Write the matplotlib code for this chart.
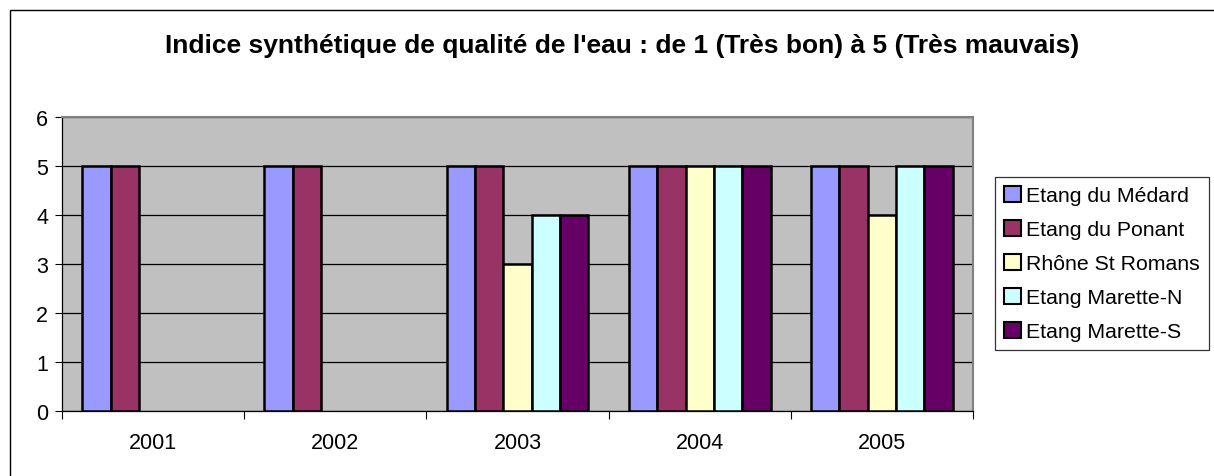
import matplotlib
matplotlib.use("Agg")
import matplotlib.pyplot as plt
from matplotlib.patches import Rectangle
import numpy as np

plt.rcParams['font.family'] = ['Liberation Sans', 'DejaVu Sans']

years = ['2001', '2002', '2003', '2004', '2005']
series_names = ['Etang du Médard', 'Etang du Ponant', 'Rhône St Romans',
                'Etang Marette-N', 'Etang Marette-S']
medard = [5, 5, 5, 5, 5]
ponant = [5, 5, 5, 5, 5]
rhone = [np.nan, np.nan, 3, 5, 4]
marette_n = [np.nan, np.nan, 4, 5, 5]
marette_s = [np.nan, np.nan, 4, 5, 5]
colors = ['#9999FF', '#993366', '#FFFFCC', '#CCFFFF', '#660066']
title = "Indice synthétique de qualité de l'eau : de 1 (Très bon) à 5 (Très mauvais)"

data = [medard, ponant, rhone, marette_n, marette_s]

fig = plt.figure(figsize=(12.14, 4.77), dpi=100)
ax = fig.add_axes([62/1214, 1 - 411.7/477, (973 - 62)/1214, (411.7 - 117.5)/477])

# outer chart border (cut at right/bottom like the screenshot)
fig.patches.append(Rectangle((10/1214, -0.1), 1.2, 1 - 11/477 + 0.1,
                             transform=fig.transFigure, fill=False,
                             edgecolor='black', linewidth=1.0))

x = np.arange(len(years))
bw = 0.1555
for i, vals in enumerate(data):
    ax.bar(x - 2*bw + i*bw, vals, width=bw, color=colors[i], edgecolor='black',
           linewidth=1.8, label=series_names[i], zorder=3)

ax.set_facecolor('#C0C0C0')
ax.set_xlim(-0.5, 4.5)
ax.set_ylim(0, 6)
ax.set_yticks(range(0, 7))
ax.yaxis.grid(True, color='black', linewidth=0.9, zorder=1)
ax.set_axisbelow(True)

ax.set_xticks(np.arange(-0.5, 5, 1))
ax.set_xticklabels([])
ax.set_xticks(x, minor=True)
ax.set_xticklabels(years, minor=True)
ax.tick_params(axis='x', which='major', length=6, width=0.8, color='black')
ax.tick_params(axis='x', which='minor', length=0, labelsize=15.5, pad=15)
ax.tick_params(axis='y', length=5, width=0.8, labelsize=15.5, pad=5)

for s in ['top', 'right']:
    ax.spines[s].set_color('#808080')
    ax.spines[s].set_linewidth(1.5)
ax.spines['left'].set_color('black')
ax.spines['bottom'].set_color('black')
ax.spines['left'].set_linewidth(0.9)
ax.spines['bottom'].set_linewidth(0.9)

fig.text(622/1214, 1 - 46/477, title, ha='center', va='center',
         fontsize=19, fontweight='bold')

leg = fig.legend(loc='upper left', bbox_to_anchor=(995/1214, 1 - 178/477),
                 frameon=True, fancybox=False, fontsize=15.3,
                 handlelength=0.8, handleheight=0.8, handletextpad=0.25,
                 labelspacing=0.68, borderpad=0.42, borderaxespad=0)
leg.get_frame().set_edgecolor('black')
leg.get_frame().set_linewidth(0.9)
for h in leg.legend_handles:
    h.set_linewidth(1.5)

fig.savefig('out.png', dpi=100)
